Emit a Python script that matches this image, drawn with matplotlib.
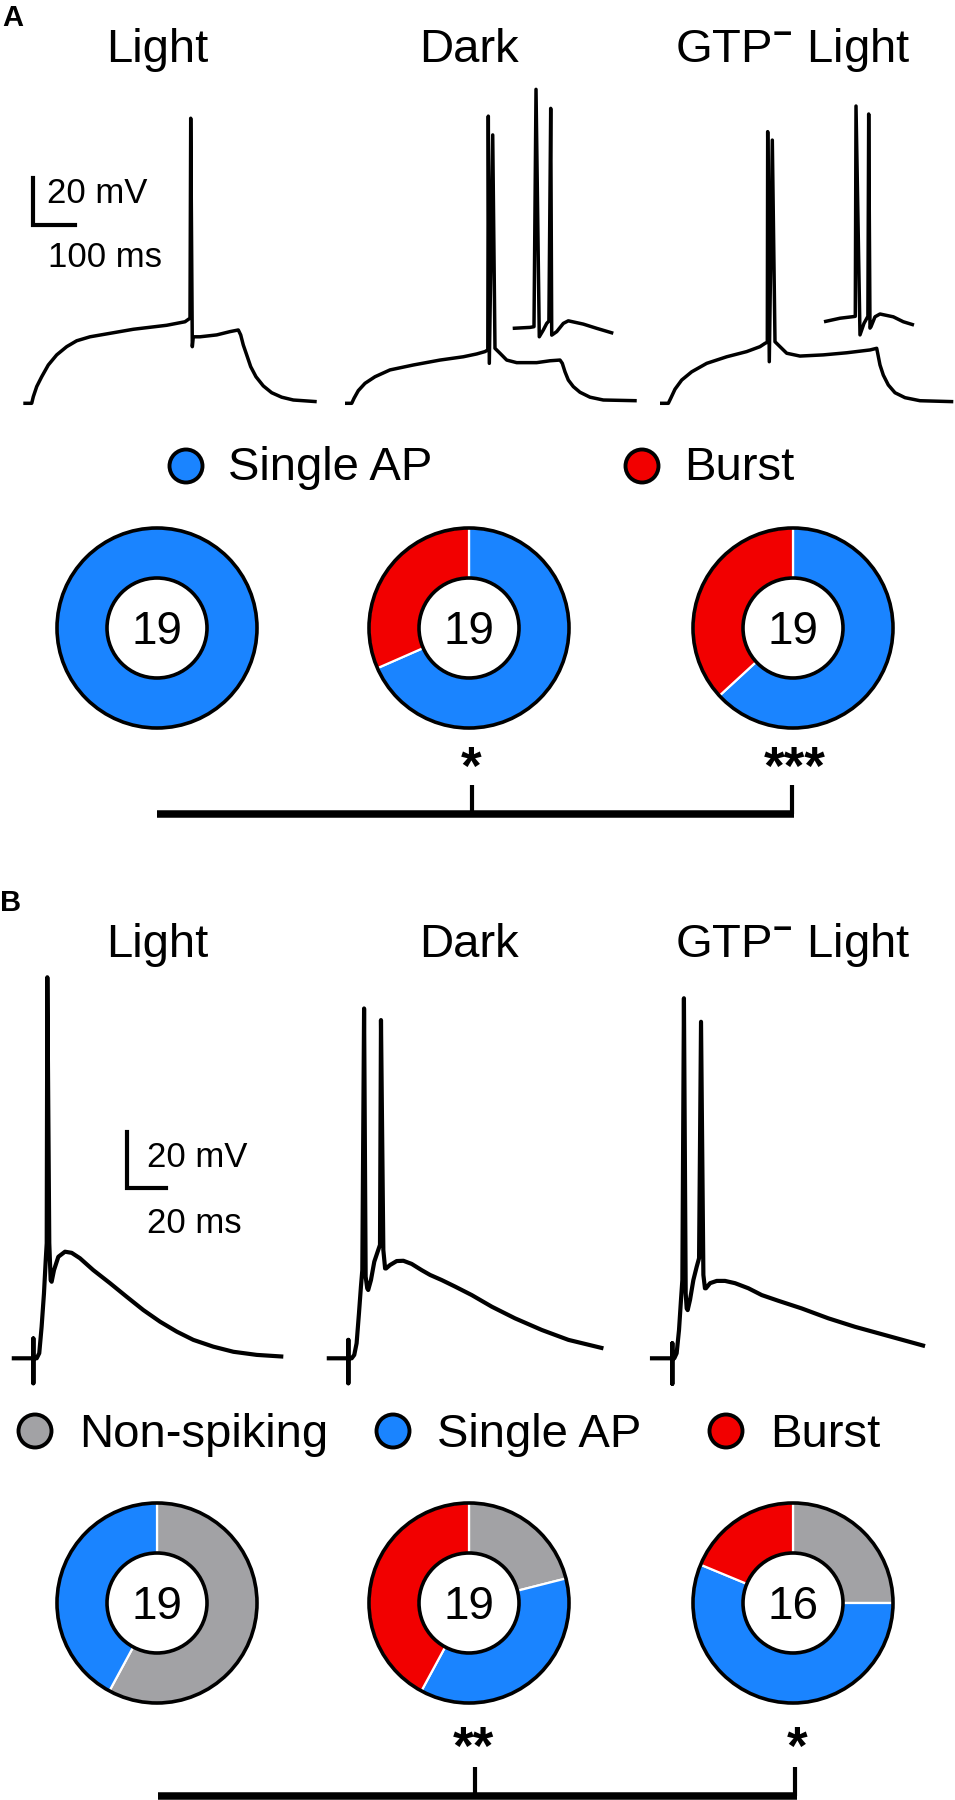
import matplotlib
matplotlib.use('Agg')
import matplotlib.pyplot as plt
from matplotlib.patches import Circle

plt.rcParams['font.family'] = ['Liberation Sans', 'DejaVu Sans']
plt.rcParams['mathtext.fontset'] = 'custom'
plt.rcParams['mathtext.rm'] = 'Liberation Sans'
plt.rcParams['mathtext.bf'] = 'Liberation Sans:bold'

# ---- data ----
titles = ['Light', 'Dark', r'GTP$^{\mathbf{-}}$ Light']

# panel A traces (time ms, membrane potential mV)
a_light_t = [0, 20, 23.8, 31.9, 43.8, 59.5, 79.5, 103.3, 127.1, 158.8, 261.9, 341.4, 385, 396.9, 398.6,
             402.4, 404.8, 420.7, 460.5, 492.1, 511.9, 517.6, 523.8, 531.9, 541.4, 554, 571.4, 591.4,
             615.2, 642.9, 698.6]
a_light_v = [-70, -70, -67.2, -62.9, -58.7, -53.7, -49.4, -45.9, -43.4, -41.7, -38.5, -36.8, -35.3, -33.8, 51.3,
             -45.9, -41.7, -41.7, -40.9, -39.5, -38.8, -40.9, -45.2, -49.4, -54.4, -58.7, -62.6, -65.5,
             -67.4, -68.6, -69.3]

a_dark_t = [0, 16, 21.4, 31.7, 47.6, 71.4, 107.1, 162.6, 226.2, 281.7, 313.6, 333.3, 340, 341.2, 343.6, 351.7,
            357.1, 369, 385, 408.8, 456.4, 488.1, 511.9, 517.4, 523.8, 531.7, 543.6, 559.5, 583.3, 615, 694.6]
a_dark_v = [-70, -70, -67.9, -64.6, -61.5, -58.7, -55.8, -53.7, -51.6, -50.2, -49, -48, -47.3, 52.2, -53, 44.2,
            -46.6, -48.7, -51.6, -52.7, -52.7, -51.9, -51.6, -53, -56.6, -60.1, -62.9, -65.3, -67.4, -68.6, -68.9]

a_dark_in_t = [0, 41.2, 50.7, 55.5, 63.3, 72.9, 81, 86.2, 90.5, 92.9, 104.8, 120.5, 132.4, 168.1, 200, 239.5]
a_dark_in_v = [-38.1, -37.7, -37.4, 63.6, -41.7, -38.8, -36, -35, 55.5, -41, -39.5, -36, -34.9, -36.3, -38.1, -40.2]

a_gtp_t = [0, 19.8, 25.5, 35.7, 51.7, 75.5, 111.2, 158.8, 206.4, 238.1, 250, 255.5, 256.4, 260.2, 267.4, 273.8,
           285.7, 301.7, 333.3, 388.8, 444.5, 500, 515.9, 518.3, 523.8, 531.7, 543.6, 559.5, 583.3, 619, 698.3]
a_gtp_v = [-70, -70, -67.9, -64, -60.1, -56.6, -53, -50.2, -48, -45.9, -44.5, -44, 45.6, -52.3, 42, -43.8,
           -45.9, -48.7, -49.9, -49.4, -48.5, -47.3, -46.6, -48.7, -53.7, -58, -62.2, -65.5, -67.6, -68.9, -69.3]

a_gtp_in_t = [0, 38.1, 66, 74.5, 76.2, 85.7, 95.2, 104.5, 106.4, 109.5, 111.9, 121.4, 133.3, 165, 188.8, 214.3]
a_gtp_in_v = [-35.3, -33.8, -33.2, -33, 56.5, -40.9, -36, -33, 53.1, -38, -37.4, -33.2, -32, -33.2, -35.3, -36.7]

# panel B traces (with stimulus artifact at the start)
b_light_t = [-12.7, -1.7, -1.7, -1.7, -1.7, 0, 1.3, 2.5, 3.7, 4.6, 5.1, 5.4, 6.4, 7.1, 7.6, 8.8, 11, 14.4,
             17.8, 22, 28.8, 37.3, 45.8, 54.3, 62.8, 71.3, 79.7, 89.9, 100.1, 112, 125.5]
b_light_v = [-70, -70, -63, -78.8, -70, -70, -68.2, -58.9, -47.1, -35.3, -29.4, 64.4, -29.4, -42.4, -43, -38.9,
             -34.2, -32.4, -32.8, -34.7, -38.9, -43.5, -48.3, -53, -57.1, -60.6, -63.5, -65.9, -67.7, -68.8, -69.4]

b_dark_t = [-12.7, -1.7, -1.7, -1.7, -1.7, 0, 1.3, 2.5, 3.7, 4.7, 5.4, 6.3, 7.1, 7.9, 8.4, 9.8, 11.5, 13.5,
            14.4, 14.9, 16.1, 17, 17.5, 19.5, 22.9, 26.3, 30.5, 35.6, 39.9, 45.8, 52.6, 61.1, 71.3, 83.1,
            96.7, 110.3, 128.1]
b_dark_v = [-70, -70, -63.5, -78.8, -70, -70, -68.8, -64.7, -54.1, -44.7, -38.9, 53.4, -41.2, -45.3, -45.9,
            -42.4, -35.9, -31.8, -30, 49.3, -31.8, -38.3, -38.3, -37.1, -35.7, -35.6, -36.7, -38.9, -40.6,
            -42.4, -44.7, -47.7, -51.8, -55.9, -60, -63.5, -66.5]

b_gtp_t = [-12.4, -1, -1, -1, -1, 0, 1.2, 2.4, 3.4, 4.1, 4.9, 5.8, 6.3, 6.8, 8, 9.7, 11.4, 12.6, 13.6, 14.8,
           15.6, 16.1, 18.2, 21.6, 25.8, 30.9, 37.7, 44.5, 52.9, 64.8, 78.4, 92, 107.2, 127.6]
b_gtp_v = [-70, -70, -64.7, -79, -70, -70, -68.2, -60, -49.4, -42.4, 57, -47.1, -52.4, -53, -49.4, -42.4,
           -37.7, -34.7, 48.7, -40.6, -45.3, -45.3, -43.5, -42.7, -42.7, -43.5, -45.3, -47.7, -49.7, -52.4,
           -55.9, -58.9, -61.8, -65.7]

# cell counts per category
a_labels = ['Single AP', 'Burst']
a_counts = [[19, 0], [13, 6], [12, 7]]
b_labels = ['Non-spiking', 'Single AP', 'Burst']
b_counts = [[11, 8, 0], [4, 7, 8], [4, 9, 3]]
a_sig = ['', '*', '***']
b_sig = ['', '**', '*']

blue = '#1a84ff'
red = '#f20000'
gray = '#a2a2a5'

# ---- layout (pixels) ----
W, H = 955, 1800
fig = plt.figure(figsize=(W / 100, H / 100), dpi=100)
cols = [157, 469, 793]
A_MS, A_MV = 0.42, 2.35      # px per ms / mV in panel A
B_MS, B_MV = 1.965, 2.835    # panel B


def px_ax(x0, y0, px_ms, px_mv, v0=-70.0):
    # full-figure axes where (t=0, v=v0) lands on pixel (x0, y0)
    ax = fig.add_axes([0, 0, 1, 1])
    ax.set_xlim(-x0 / px_ms, (W - x0) / px_ms)
    ax.set_ylim(v0 - (H - y0) / px_mv, v0 + y0 / px_mv)
    ax.axis('off')
    ax.patch.set_visible(False)
    return ax


# traces
a_traces = [(a_light_t, a_light_v, 23.3), (a_dark_t, a_dark_v, 345), (a_dark_in_t, a_dark_in_v, 512.7),
            (a_gtp_t, a_gtp_v, 660), (a_gtp_in_t, a_gtp_in_v, 824)]
for t, v, x0 in a_traces:
    ax = px_ax(x0, 403.3, A_MS, A_MV)
    ax.plot(t, v, color='black', lw=2.5, solid_joinstyle='round', solid_capstyle='butt')

b_traces = [(b_light_t, b_light_v, 36.7), (b_dark_t, b_dark_v, 351.7), (b_gtp_t, b_gtp_v, 674.3)]
for t, v, x0 in b_traces:
    ax = px_ax(x0, 1358.3, B_MS, B_MV)
    ax.plot(t, v, color='black', lw=3.0, solid_joinstyle='round', solid_capstyle='butt')

# scale bars
sa = px_ax(33.3, 225, A_MS, A_MV, v0=0)
sa.plot([0, 0, 100], [20, 0, 0], color='black', lw=3, solid_joinstyle='miter')
sb = px_ax(126.7, 1188.3, B_MS, B_MV, v0=0)
sb.plot([0, 0, 20], [20, 0, 0], color='black', lw=3, solid_joinstyle='miter')


# donuts
def donut(cx, cy, counts, colors):
    r = 100
    ax = fig.add_axes([(cx - 1.1 * r) / W, 1 - (cy + 1.1 * r) / H, 2.2 * r / W, 2.2 * r / H])
    vals = [c for c in counts if c > 0]
    cls = [col for c, col in zip(counts, colors) if c > 0]
    lw = 1.6 if len(vals) > 1 else 0
    ax.pie(vals, colors=cls, startangle=90, counterclock=False, radius=1,
           wedgeprops=dict(width=0.5, edgecolor='white', linewidth=lw))
    ax.add_patch(Circle((0, 0), 1, fill=False, ec='black', lw=2.6))
    ax.add_patch(Circle((0, 0), 0.5, fill=False, ec='black', lw=2.6))
    ax.set_xlim(-1.1, 1.1)
    ax.set_ylim(-1.1, 1.1)
    ax.set_aspect('equal')
    ax.axis('off')


for i, cx in enumerate(cols):
    donut(cx, 628, a_counts[i], [blue, red])
    donut(cx, 1603, b_counts[i], [gray, blue, red])

# overlay for text, legends and brackets
ov = fig.add_axes([0, 0, 1, 1])
ov.set_xlim(0, W)
ov.set_ylim(H, 0)
ov.axis('off')
ov.patch.set_visible(False)

ov.text(2, 26, 'A', fontsize=21, fontweight='bold', va='baseline')
ov.text(0, 911, 'B', fontsize=21, fontweight='bold', va='baseline')

for cx, title in zip(cols, titles):
    ov.text(cx, 62, title, fontsize=34, ha='center', va='baseline')
    ov.text(cx, 957, title, fontsize=34, ha='center', va='baseline')

ov.text(46.7, 203, '20 mV', fontsize=25, va='baseline')
ov.text(48.3, 267, '100 ms', fontsize=25, va='baseline')
ov.text(146.7, 1167, '20 mV', fontsize=25, va='baseline')
ov.text(146.7, 1233, '20 ms', fontsize=25, va='baseline')

# legends
for (lab, col), x in zip(zip(a_labels, [blue, red]), [186, 642]):
    ov.add_patch(Circle((x, 466), 16.5, fc=col, ec='black', lw=2.8))
    ov.text(x + 42, 480, lab, fontsize=34, va='baseline')
for (lab, col), x in zip(zip(b_labels, [gray, blue, red]), [35, 393, 726]):
    ov.add_patch(Circle((x, 1431), 16.5, fc=col, ec='black', lw=2.8))
    ov.text(x + 44, 1447, lab, fontsize=34, va='baseline')

# numbers inside donuts
for i, cx in enumerate(cols):
    ov.text(cx, 644, str(sum(a_counts[i])), fontsize=33, ha='center', va='baseline')
    ov.text(cx, 1619, str(sum(b_counts[i])), fontsize=33, ha='center', va='baseline')

# significance brackets
for i, cx in enumerate(cols):
    ov.text(cx + 2, 784, a_sig[i], fontsize=38, fontweight='bold', ha='center', va='baseline')
    ov.text(cx + 4, 1764, b_sig[i], fontsize=38, fontweight='bold', ha='center', va='baseline')

ov.plot([157, 794], [814, 814], color='black', lw=5.4, solid_capstyle='butt')
ov.plot([472, 472], [785, 814], color='black', lw=3, solid_capstyle='butt')
ov.plot([792, 792], [785, 814], color='black', lw=3, solid_capstyle='butt')
ov.plot([158, 797], [1796, 1796], color='black', lw=5.4, solid_capstyle='butt')
ov.plot([475, 475], [1767, 1796], color='black', lw=3, solid_capstyle='butt')
ov.plot([795, 795], [1767, 1796], color='black', lw=3, solid_capstyle='butt')

fig.savefig('out.png', dpi=100)
